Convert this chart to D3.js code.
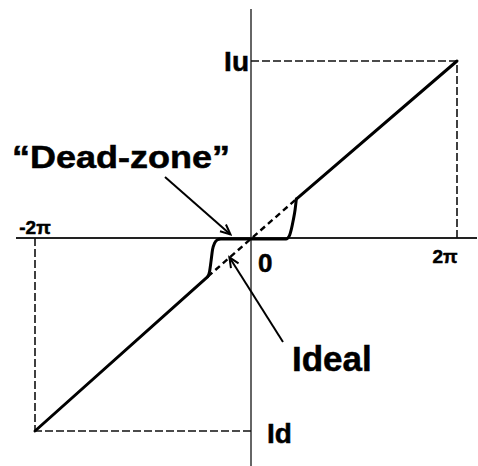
<!DOCTYPE html>
<html>
<head>
<meta charset="utf-8">
<script src="https://cdn.jsdelivr.net/npm/d3@7"></script>
<style>
  html, body { margin: 0; background: #fff; }
  svg { display: block; }
  text { font-family: "Liberation Sans", Arial, Helvetica, sans-serif; font-weight: bold; fill: #000; stroke: #000; stroke-width: 0.5px; }
</style>
</head>
<body>
<script>
// Phase error in units of 2π, charge-pump output current in units of Iu
const phaseTicks = [-1, 0, 1];
const phaseTickLabels = ["-2π", "0", "2π"];
const currentLevels = [1, -1];
const currentLevelPhase = [1, -1];
const currentLabels = ["Iu", "Id"];

// Ideal linear response (drawn dashed across the dead zone)
const idealPhase = [-0.2, 0.22];
const idealCurrent = [-0.2, 0.22];

// Real response: lower straight branch, dead-zone knee, upper straight branch
const lowerPhase = [-1, -0.2];
const lowerCurrent = [-1, -0.2];
const kneePhase = [-0.2, -0.192, -0.185, -0.178, -0.168, -0.155, -0.14, 0.17, 0.186, 0.196, 0.205, 0.214, 0.22];
const kneeCurrent = [-0.2, -0.175, -0.12, -0.06, -0.025, -0.009, -0.005, -0.005, 0.012, 0.05, 0.1, 0.16, 0.22];
const upperPhase = [0.22, 1];
const upperCurrent = [0.22, 1];

// Annotation pointers: [phase, current] of the arrow tips
const deadZoneTip = [-0.095, 0.02];
const idealTip = [-0.1, -0.1];

const W = 478, H = 466;
const svg = d3.select("body").append("svg").attr("width", W).attr("height", H);

const x = d3.scaleLinear().domain([-1, 0, 1]).range([35, 251, 457]);
const y = d3.scaleLinear().domain([-1, 0, 1]).range([431, 238, 61]);

const zip = (a, b) => a.map((v, i) => [v, b[i]]);
const line = d3.line().x(d => x(d[0])).y(d => y(d[1]));

// arrowhead marker
svg.append("defs").append("marker")
  .attr("id", "arrow")
  .attr("markerUnits", "userSpaceOnUse")
  .attr("viewBox", "-12 -6 14 12")
  .attr("markerWidth", 14).attr("markerHeight", 12)
  .attr("refX", 0).attr("refY", 0)
  .attr("orient", "auto")
  .append("path")
  .attr("d", "M-10,-4.5 L0,0 L-10,4.5")
  .attr("fill", "none").attr("stroke", "#000").attr("stroke-width", 2);

// axes
svg.append("line")
  .attr("x1", 16).attr("x2", 477).attr("y1", y(0)).attr("y2", y(0))
  .attr("stroke", "#222").attr("stroke-width", 2);
svg.append("line")
  .attr("x1", x(0)).attr("x2", x(0)).attr("y1", 9).attr("y2", H)
  .attr("stroke", "#333").attr("stroke-width", 1.5);

// dashed guides to the saturation levels
currentLevels.forEach((lv, i) => {
  const ph = currentLevelPhase[i];
  svg.append("line")
    .attr("x1", x(0)).attr("x2", x(ph)).attr("y1", y(lv)).attr("y2", y(lv))
    .attr("stroke", "#111").attr("stroke-width", 1.6).attr("stroke-dasharray", "8,3");
  svg.append("line")
    .attr("x1", x(ph)).attr("x2", x(ph)).attr("y1", y(0)).attr("y2", y(lv))
    .attr("stroke", "#111").attr("stroke-width", 1.6).attr("stroke-dasharray", "8,3");
});

// ideal response
svg.append("path")
  .attr("d", line(zip(idealPhase, idealCurrent)))
  .attr("fill", "none").attr("stroke", "#000").attr("stroke-width", 2.4)
  .attr("stroke-dasharray", "6,4");

// real response with dead zone
const curveStyle = p => p.attr("fill", "none").attr("stroke", "#000")
  .attr("stroke-width", 3).attr("stroke-linecap", "round").attr("stroke-linejoin", "round");
svg.append("path").attr("d", line(zip(lowerPhase, lowerCurrent))).call(curveStyle);
svg.append("path").attr("d", line.curve(d3.curveMonotoneX)(zip(kneePhase, kneeCurrent))).call(curveStyle);
line.curve(d3.curveLinear);
svg.append("path").attr("d", line(zip(upperPhase, upperCurrent))).call(curveStyle);

// phase tick labels
const tickPos = [
  { dx: 0, dy: -4, anchor: "middle", size: 19 },
  { dx: 7, dy: 34, anchor: "start", size: 26 },
  { dx: -12, dy: 25, anchor: "middle", size: 19 }
];
phaseTicks.forEach((t, i) => {
  svg.append("text")
    .attr("x", x(t) + tickPos[i].dx).attr("y", y(0) + tickPos[i].dy)
    .attr("text-anchor", tickPos[i].anchor)
    .attr("font-size", tickPos[i].size)
    .text(phaseTickLabels[i]);
});

// current level labels
svg.append("text").attr("x", x(0) - 2).attr("y", y(currentLevels[0]) + 10)
  .attr("text-anchor", "end").attr("font-size", 28).text(currentLabels[0]);
svg.append("text").attr("x", x(0) + 16).attr("y", y(currentLevels[1]) + 12)
  .attr("text-anchor", "start").attr("font-size", 28).text(currentLabels[1]);

// annotations
svg.append("text").attr("x", 12).attr("y", 168)
  .attr("font-size", 31).attr("textLength", 218).attr("lengthAdjust", "spacingAndGlyphs")
  .text("“Dead-zone”");
svg.append("line")
  .attr("x1", 165).attr("y1", 177)
  .attr("x2", x(deadZoneTip[0])).attr("y2", y(deadZoneTip[1]))
  .attr("stroke", "#000").attr("stroke-width", 2).attr("marker-end", "url(#arrow)");

svg.append("text").attr("x", 292).attr("y", 371)
  .attr("font-size", 35).text("Ideal");
svg.append("line")
  .attr("x1", 283).attr("y1", 342)
  .attr("x2", x(idealTip[0])).attr("y2", y(idealTip[1]))
  .attr("stroke", "#000").attr("stroke-width", 2).attr("marker-end", "url(#arrow)");
</script>
</body>
</html>
